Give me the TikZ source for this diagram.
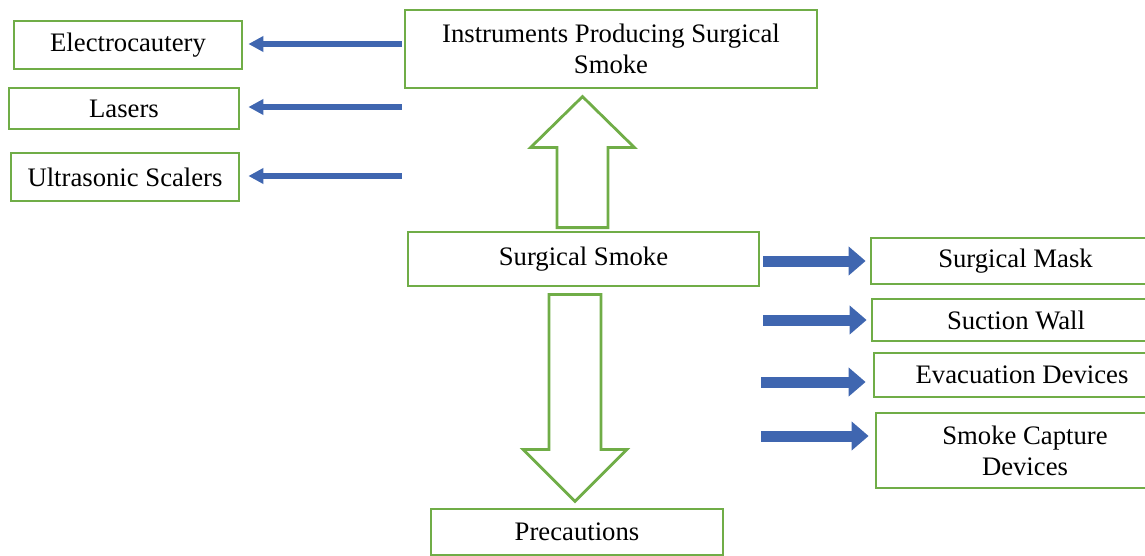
\documentclass[tikz,border=0pt]{standalone}
\usepackage{fontspec}
\setmainfont{Liberation Serif}
\usetikzlibrary{calc,arrows.meta}
\definecolor{gboxc}{HTML}{70AD47}
\definecolor{barrc}{HTML}{3F66B0}
\begin{document}
\begin{tikzpicture}[x=1pt,y=-1pt,
  box/.style={draw=gboxc, line width=2.8pt, fill=white, inner sep=0pt, align=center,
    font=\fontsize{26.7}{31}\selectfont},
  hollow/.style={draw=gboxc, line width=2.8pt, fill=white, line join=miter},
  larr/.style={draw=barrc, line width=6pt, -{Triangle[length=15pt,width=15pt]}},
  rarr/.style={draw=barrc, line width=11pt, -{Triangle[length=17pt,width=28pt]}}]
\useasboundingbox (0,0) rectangle (1145,556);
\clip (0,0) rectangle (1145,556);
% boxes
\node[box, minimum width=228pt, minimum height=48pt] (elec) at (128,45) {Electrocautery};
\node[box, minimum width=230pt, minimum height=41pt] (las) at (124,108.5) {Lasers};
\node[box, minimum width=228pt, minimum height=48pt] (ultra) at (125,177) {Ultrasonic Scalers};
\node[box, minimum width=412pt, minimum height=78pt] (instr) at (611,49) {Instruments Producing Surgical\\Smoke};
\node[box, minimum width=351pt, minimum height=54pt] (smoke) at (583.5,259) {Surgical Smoke};
\node[box, minimum width=292pt, minimum height=46pt] (prec) at (577,532) {Precautions};
\node[box, minimum width=289pt, minimum height=46pt] (mask) at (1015.5,261) {Surgical Mask};
\node[box, minimum width=288pt, minimum height=42pt] (suct) at (1016,320) {Suction Wall};
\node[box, minimum width=296pt, minimum height=44pt] (evac) at (1022,375) {Evacuation Devices};
\node[box, minimum width=298pt, minimum height=75pt] (capt) at (1025,450.5) {Smoke Capture\\Devices};
% hollow arrows
\draw[hollow] ($(smoke.north)+(-26.5,-3)$) -- ++(0,-80) -- ++(-26.5,0) -- ++(52,-51)
  -- ++(52,51) -- ++(-26.5,0) -- ++(0,80) -- cycle;
\draw[hollow] ($(smoke.south)+(-34.5,7)$) -- ++(0,155) -- ++(-26,0) -- ++(52,52)
  -- ++(52,-52) -- ++(-26,0) -- ++(0,-155) -- cycle;
% left blue arrows
\draw[larr] ($(instr.west |- elec.east)+(-2,-1)$) -- ($(elec.east)+(5,-1)$);
\draw[larr] ($(instr.west |- las.east)+(-2,-1.5)$) -- ($(las.east)+(8,-1.5)$);
\draw[larr] ($(instr.west |- ultra.east)+(-2,-1)$) -- ($(ultra.east)+(8,-1)$);
% right blue arrows
\draw[rarr] ($(smoke.east |- mask.west)+(3,0)$) -- ($(mask.west)+(-4,0)$);
\draw[rarr] ($(smoke.east |- suct.west)+(3,0)$) -- ($(suct.west)+(-4,0)$);
\draw[rarr] ($(smoke.east |- evac.west)+(1,7)$) -- ($(evac.west)+(-7,7)$);
\draw[rarr] ($(smoke.east |- capt.west)+(1,-14.5)$) -- ($(capt.west)+(-6,-14.5)$);
\end{tikzpicture}
\end{document}
